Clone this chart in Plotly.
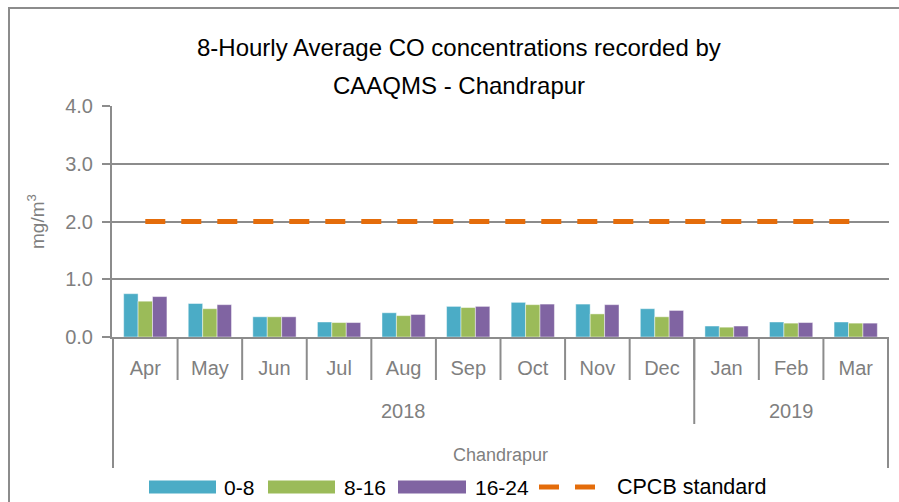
import plotly.graph_objects as go

months = ["Apr", "May", "Jun", "Jul", "Aug", "Sep", "Oct", "Nov", "Dec", "Jan", "Feb", "Mar"]
years = ["2018", "2019"]
year_counts = [9, 3]
site = "Chandrapur"

s_0_8 = [0.75, 0.58, 0.35, 0.26, 0.42, 0.53, 0.60, 0.57, 0.49, 0.19, 0.26, 0.26]
s_8_16 = [0.62, 0.49, 0.35, 0.25, 0.37, 0.51, 0.56, 0.40, 0.35, 0.17, 0.24, 0.24]
s_16_24 = [0.70, 0.56, 0.35, 0.25, 0.39, 0.53, 0.57, 0.56, 0.46, 0.19, 0.25, 0.24]
cpcb = [2.0] * 12

series_names = ["0-8", "8-16", "16-24"]
colors = ["#4BACC6", "#9BBB59", "#8064A2"]
line_color = "#E46C0A"

W, H = 899, 502
L, R, T, B = 112, 10, 106, 165
PW, PH = W - L - R, H - T - B

def px(x):
    return (x - L) / PW

def py(y):
    return (H - B - y) / PH

GRAY = "#8C8C8C"
TXT = "#7F7F7F"
FONT = "Liberation Sans, Arial, sans-serif"

fig = go.Figure()
for name, vals, c in zip(series_names, [s_0_8, s_8_16, s_16_24], colors):
    fig.add_trace(go.Bar(x=months, y=vals, name=name, marker=dict(color=c, line=dict(color="rgba(255,255,255,0.45)", width=1)), showlegend=False))
fig.add_trace(go.Scatter(x=months, y=cpcb, name="CPCB standard", mode="lines",
                         line=dict(color=line_color, width=5, dash="20px,16px"), showlegend=False))

shapes = []
for i in range(1, len(months)):
    shapes.append(dict(type="line", xref="x", yref="paper", x0=i - 0.5, x1=i - 0.5, y0=0, y1=py(380),
                       line=dict(color=GRAY, width=2)))
pos = -0.5
for cnt in year_counts[:-1]:
    pos += cnt
    shapes.append(dict(type="line", xref="x", yref="paper", x0=pos, x1=pos, y0=0, y1=py(424),
                       line=dict(color=GRAY, width=2)))
for xv in [-0.5, len(months) - 0.5]:
    shapes.append(dict(type="line", xref="x", yref="paper", x0=xv, x1=xv, y0=0, y1=py(468),
                       line=dict(color=GRAY, width=2)))
shapes.append(dict(type="rect", xref="paper", yref="paper", x0=px(9), x1=px(910), y0=py(8), y1=py(520),
                   line=dict(color=GRAY, width=2), fillcolor="rgba(0,0,0,0)"))

annotations = []
annotations.append(dict(text="8-Hourly Average CO concentrations recorded by", x=px(459), y=py(47), xref="paper", yref="paper",
                        showarrow=False, font=dict(size=24, color="black", family=FONT), xanchor="center", yanchor="middle"))
annotations.append(dict(text="CAAQMS - Chandrapur", x=px(459), y=py(85), xref="paper", yref="paper",
                        showarrow=False, font=dict(size=24, color="black", family=FONT), xanchor="center", yanchor="middle"))
annotations.append(dict(text="mg/m<sup>3</sup>", x=px(36), y=py(222), xref="paper", yref="paper", textangle=-90,
                        showarrow=False, font=dict(size=19, color=TXT, family=FONT), xanchor="center", yanchor="middle"))
pos = -0.5
for yr, cnt in zip(years, year_counts):
    annotations.append(dict(text=yr, x=pos + cnt / 2, y=py(411), xref="x", yref="paper", showarrow=False,
                            font=dict(size=20, color=TXT, family=FONT), xanchor="center", yanchor="middle"))
    pos += cnt
annotations.append(dict(text=site, x=(len(months) - 1) / 2, y=py(455), xref="x", yref="paper", showarrow=False,
                        font=dict(size=18, color=TXT, family=FONT), xanchor="center", yanchor="middle"))

leg_y = 487
swatches = [(149, 216, 222), (268, 335, 342), (398, 466, 473)]
for (x0, x1, tx), name, c in zip(swatches, series_names, colors):
    shapes.append(dict(type="rect", xref="paper", yref="paper", x0=px(x0), x1=px(x1), y0=py(leg_y - 6.5), y1=py(leg_y + 6.5),
                       line=dict(width=0), fillcolor=c))
    annotations.append(dict(text=name, x=px(tx), y=py(leg_y), xref="paper", yref="paper", showarrow=False,
                            font=dict(size=21, color="black", family=FONT), xanchor="left", yanchor="middle"))
for x0, x1 in [(539, 559), (575, 595)]:
    shapes.append(dict(type="line", xref="paper", yref="paper", x0=px(x0), x1=px(x1), y0=py(leg_y), y1=py(leg_y),
                       line=dict(color=line_color, width=5)))
annotations.append(dict(text="CPCB standard", x=px(615), y=py(leg_y), xref="paper", yref="paper", showarrow=False,
                        font=dict(size=21.5, color="black", family=FONT), xanchor="left", yanchor="middle"))

fig.update_layout(
    width=W, height=H,
    margin=dict(l=L, r=R, t=T, b=B, pad=0),
    paper_bgcolor="white", plot_bgcolor="white",
    barmode="group", bargap=0.33, bargroupgap=0,
    showlegend=False,
    font=dict(family=FONT, color=TXT),
    shapes=shapes, annotations=annotations,
    xaxis=dict(type="category", showline=True, linecolor=GRAY, linewidth=2, ticks="", showgrid=False,
               tickfont=dict(size=20, color=TXT), ticklabelstandoff=12),
    yaxis=dict(range=[0, 4], dtick=1, tickformat=".1f", showline=True, linecolor=GRAY, linewidth=2,
               ticks="outside", ticklen=8, tickcolor=GRAY, tickwidth=2, showgrid=True, gridcolor=GRAY, gridwidth=2,
               zeroline=False, tickfont=dict(size=20, color=TXT), ticklabelstandoff=5),
)

fig.write_html("out.html", config={"displayModeBar": False},
               post_script="document.body.style.margin='0';document.body.style.overflow='hidden';")
